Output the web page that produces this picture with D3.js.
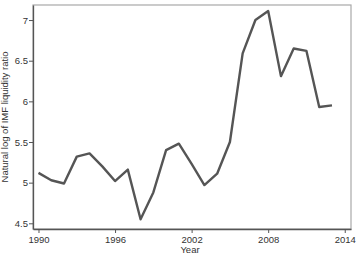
<!DOCTYPE html>
<html>
<head>
<meta charset="utf-8">
<script src="https://cdn.jsdelivr.net/npm/d3@7"></script>
<style>
  body { margin: 0; background: #fff; }
  text { font-family: "Liberation Sans", Arial, sans-serif; }
</style>
</head>
<body>
<div id="chart"></div>
<script>
// values
const years = [1990, 1991, 1992, 1993, 1994, 1995, 1996, 1997, 1998, 1999, 2000, 2001,
               2002, 2003, 2004, 2005, 2006, 2007, 2008, 2009, 2010, 2011, 2012, 2013];
const liquidity = [5.12, 5.03, 4.99, 5.32, 5.36, 5.20, 5.02, 5.16, 4.55, 4.88, 5.40, 5.48,
                   5.23, 4.97, 5.11, 5.50, 6.59, 7.00, 7.11, 6.31, 6.65, 6.62, 5.93, 5.95];
const xTicks = [1990, 1996, 2002, 2008, 2014];
const yTicks = [4.5, 5, 5.5, 6, 6.5, 7];

const W = 357, H = 256;
const margin = {top: 5, right: 6, bottom: 27, left: 33},
    width = W - margin.left - margin.right,
    height = H - margin.top - margin.bottom;

const svg = d3.select("#chart")
  .append("svg")
    .attr("width", W)
    .attr("height", H)
  .append("g")
    .attr("transform", `translate(${margin.left},${margin.top})`);

const data = years.map((y, i) => ({year: y, value: liquidity[i]}));

const x = d3.scaleLinear()
    .domain([1989.57, 2014.49])
    .range([0, width]);

const y = d3.scaleLinear()
    .domain([4.43, 7.185])
    .range([height, 0]);

// light frame on top and right
svg.append("rect")
    .attr("x", 0).attr("y", 0)
    .attr("width", width).attr("height", height)
    .attr("fill", "none")
    .attr("stroke", "#a8a8a8")
    .attr("stroke-width", 1.2);

const xAxis = svg.append("g")
    .attr("transform", `translate(0,${height})`)
    .call(d3.axisBottom(x).tickValues(xTicks).tickFormat(d3.format("d")).tickSize(4).tickSizeOuter(0));

const yAxis = svg.append("g")
    .call(d3.axisLeft(y).tickValues(yTicks).tickFormat(d => d).tickSize(4).tickSizeOuter(0));

[xAxis, yAxis].forEach(a => {
  a.select(".domain").attr("stroke", "#555").attr("stroke-width", 1.3);
  a.selectAll(".tick line").attr("stroke", "#555");
  a.selectAll(".tick text")
    .attr("fill", "#333")
    .style("font-size", "9.5px")
    .style("font-family", "'Liberation Sans', Arial, sans-serif");
});
yAxis.selectAll(".tick text").attr("x", -5);

svg.append("path")
    .datum(data)
    .attr("fill", "none")
    .attr("stroke", "#555")
    .attr("stroke-width", 2.4)
    .attr("stroke-linejoin", "round")
    .attr("d", d3.line().x(d => x(d.year)).y(d => y(d.value)));

svg.append("text")
    .attr("x", width / 2 - 2)
    .attr("y", height + 23.5)
    .attr("text-anchor", "middle")
    .attr("fill", "#333")
    .style("font-size", "9.5px")
    .text("Year");

svg.append("text")
    .attr("transform", `translate(${-25},${height / 2}) rotate(-90)`)
    .attr("text-anchor", "middle")
    .attr("fill", "#333")
    .style("font-size", "9.5px")
    .text("Natural log of IMF liquidity ratio");
</script>
</body>
</html>
